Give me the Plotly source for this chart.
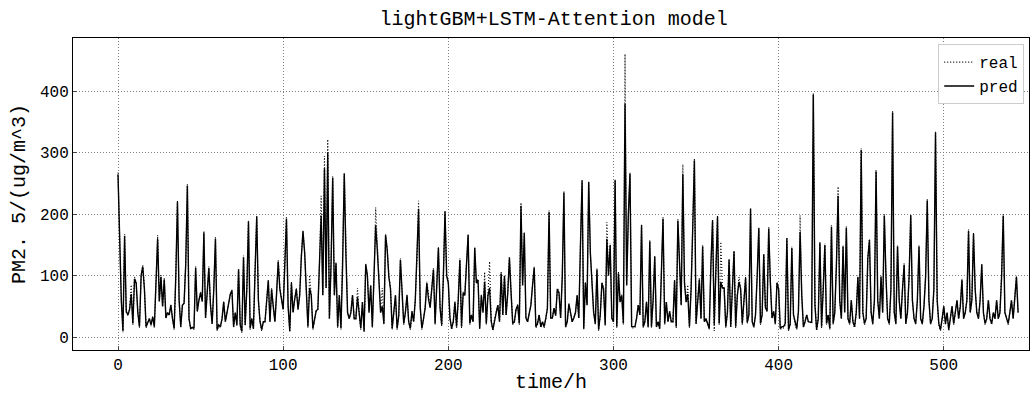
import plotly.graph_objects as go

real = [
268,150,60,8,168,40,35,45,85,20, 98,90,40,15,100,117,80,15,25,31,
18,34,15,80,166,58,101,50,96,31, 40,36,53,30,12,100,222,60,15,53,
55,120,249,30,12,15,12,115,42,60, 74,58,173,31,70,115,53,20,80,163,
10,20,15,30,58,25,40,58,70,77, 15,40,18,112,18,7,133,18,80,190,
12,30,12,110,198,60,25,10,25,25, 60,93,25,80,50,25,70,125,80,60,
45,120,195,50,8,90,40,63,80,45, 69,133,174,140,60,15,101,69,12,30,
43,45,120,230,69,295,80,322,30,120, 262,69,122,15,69,12,120,268,160,40,
30,40,69,30,30,80,40,12,58,8, 120,101,40,85,15,90,211,144,80,40,
80,20,168,144,100,80,12,48,69,12, 35,128,80,20,40,69,25,12,42,25,
60,123,222,48,12,30,48,90,63,48, 80,112,20,80,147,48,18,100,206,101,
90,31,12,25,58,15,60,128,15,74, 69,120,168,20,36,25,147,90,95,12,
69,40,106,20,69,123,25,10,30,40, 53,25,106,36,101,36,74,131,74,20,
25,45,53,20,219,85,171,31,25,42, 53,85,115,15,20,36,15,25,15,30,
47,206,31,31,47,35,80,74,31,100, 238,15,25,55,36,25,31,40,69,31,
150,257,12,90,53,254,139,80,40,20, 112,10,36,90,80,18,187,101,152,31,
25,257,15,106,58,69,20,461,85,200, 268,15,15,15,31,53,36,184,15,25,
58,15,158,15,60,133,15,25,12,100, 195,20,58,25,42,25,25,93,15,192,
128,53,281,90,58,85,15,80,180,290, 20,60,96,30,150,25,30,20,12,120,
192,10,100,198,20,155,80,82,15,40, 128,15,80,141,15,69,98,80,20,69,
98,22,36,211,25,15,36,100,179,20, 36,136,48,42,179,90,31,42,20,90,
80,12,15,15,20,163,10,20,147,36, 20,12,42,198,69,15,25,36,25,25,
22,397,53,10,30,155,15,80,152,20, 36,12,182,20,40,120,245,60,30,150,
40,180,30,20,60,25,15,40,100,30, 307,40,20,30,130,160,40,20,60,272,
60,30,100,40,200,100,30,20,80,368, 40,20,150,60,30,80,120,20,40,100,
200,60,30,20,60,150,30,20,50,100, 225,60,20,30,80,335,60,20,10,30,
50,20,40,10,30,50,20,40,60,30, 50,95,30,40,60,175,40,60,170,80,
40,30,60,120,40,20,30,60,30,20, 40,30,60,30,40,100,200,40,30,20,
40,60,30,60,100,40,
]

pred = [
265,150,60,10,165,42,36,45,70,22, 95,88,40,17,100,115,78,17,25,30,
20,33,17,78,160,58,98,50,94,31, 40,36,52,30,14,100,220,60,17,52,
55,118,247,30,14,16,14,113,42,60, 72,58,170,31,70,113,52,22,78,160,
12,20,17,30,57,25,40,57,70,76, 17,40,20,110,20,9,130,20,78,188,
14,30,14,108,196,60,25,12,25,25, 60,92,25,78,50,25,70,123,78,60,
45,118,193,50,10,88,40,62,78,45, 68,130,172,138,60,17,80,68,14,30,
43,45,118,198,68,275,80,300,30,118, 260,68,120,17,68,14,118,266,133,40,
30,40,68,30,30,65,40,14,57,10, 118,100,40,84,17,88,182,142,78,40,
50,22,166,142,98,78,14,48,68,14, 35,126,78,22,40,68,25,14,42,25,
60,121,209,48,14,30,48,88,62,48, 78,110,22,78,145,48,20,98,204,100,
88,31,14,25,57,17,60,126,17,72, 68,118,166,22,36,25,145,88,93,14,
68,40,90,22,68,80,25,12,30,40, 52,25,104,36,100,36,72,129,72,22,
25,45,52,22,214,84,169,31,25,42, 52,84,113,17,22,36,17,25,17,30,
47,204,31,31,47,35,78,72,31,98, 236,17,25,54,36,25,31,40,68,31,
148,255,14,88,52,252,137,78,40,22, 110,12,36,88,78,20,160,100,150,31,
25,255,17,104,57,68,22,380,84,198, 266,17,17,17,31,52,36,182,17,25,
57,17,156,17,60,131,17,25,14,98, 193,22,57,25,42,25,25,92,17,190,
126,52,265,88,57,70,17,78,178,288, 22,60,94,30,148,25,30,22,14,118,
190,20,98,196,22,90,80,80,17,40, 126,17,78,139,17,68,90,78,22,68,
96,24,36,209,25,17,36,98,177,22, 36,134,48,42,177,88,31,42,22,88,
78,14,17,17,22,161,12,22,145,36, 22,14,42,171,68,17,25,36,25,25,
24,395,52,12,30,153,17,78,150,22, 36,14,180,22,40,118,230,60,30,148,
40,178,30,22,60,25,17,40,98,30, 305,40,22,30,128,158,40,22,60,270,
60,30,98,40,198,98,30,22,78,366, 40,22,148,60,30,78,118,22,40,98,
198,60,30,22,60,148,30,22,50,98, 222,60,22,30,78,333,60,22,12,30,
50,22,40,12,30,50,22,40,60,30, 50,93,30,40,60,173,40,60,168,78,
40,30,60,118,40,22,30,60,30,22, 40,30,60,30,40,98,198,40,30,22,
40,60,30,60,98,40,
]

t = list(range(len(real)))
FONT = "Liberation Mono"

fig = go.Figure()
fig.add_trace(go.Scatter(x=t, y=real, mode="lines", name="real",
                         line=dict(color="black", width=1.1, dash="1px,2px")))
fig.add_trace(go.Scatter(x=t, y=pred[:len(real)], mode="lines", name="pred",
                         line=dict(color="black", width=1.4)))

fig.update_layout(
    width=1031, height=394,
    margin=dict(l=73, r=1, t=38, b=42),
    paper_bgcolor="white", plot_bgcolor="white",
    font=dict(family=FONT, color="black", size=16),
    title=dict(text="lightGBM+LSTM-Attention model", x=0.537, xanchor="center",
               y=0.955, yanchor="middle", font=dict(size=20, family=FONT)),
    showlegend=True,
    legend=dict(x=0.995, y=0.98, xanchor="right", yanchor="top",
                bordercolor="#cccccc", borderwidth=1, bgcolor="white",
                font=dict(size=16, family=FONT)),
    xaxis=dict(range=[-27.25, 551.6], tickvals=[0, 100, 200, 300, 400, 500],
               showgrid=True, gridcolor="#808080", griddash="1px,2px", gridwidth=1,
               showline=True, linecolor="black", linewidth=1, mirror=True,
               ticks="inside", ticklen=4, zeroline=False,
               title=dict(text="time/h", font=dict(size=20), standoff=4),
               tickfont=dict(size=16)),
    yaxis=dict(range=[-21, 487], tickvals=[0, 100, 200, 300, 400],
               showgrid=True, gridcolor="#808080", griddash="1px,2px", gridwidth=1,
               showline=True, linecolor="black", linewidth=1, mirror=True,
               ticks="inside", ticklen=4, zeroline=False,
               title=dict(text="PM2. 5/(ug/m^3)", font=dict(size=20), standoff=8),
               tickfont=dict(size=16)),
)
fig.write_html("out.html")
